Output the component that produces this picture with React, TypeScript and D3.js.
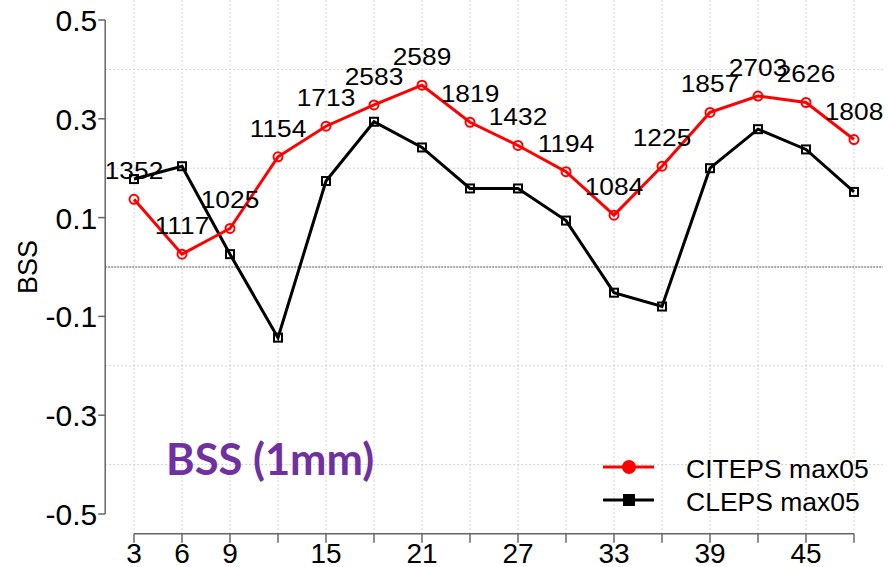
import * as d3 from 'd3'
import { type ReactElement } from 'react'

// lead times (h)
const leadTimes = [3, 6, 9, 12, 15, 18, 21, 24, 27, 30, 33, 36, 39, 42, 45, 48]
const citepsBss = [0.137, 0.026, 0.078, 0.223, 0.285, 0.328, 0.368, 0.293, 0.246, 0.193, 0.105, 0.204, 0.313, 0.346, 0.333, 0.258]
const clepsBss = [0.178, 0.204, 0.026, -0.143, 0.174, 0.294, 0.242, 0.159, 0.159, 0.094, -0.052, -0.08, 0.2, 0.279, 0.238, 0.152]
const sampleCounts = [1352, 1117, 1025, 1154, 1713, 2583, 2589, 1819, 1432, 1194, 1084, 1225, 1857, 2703, 2626, 1808]

const xTickValues = d3.range(3, 49, 3)
const xTickLabels = ['3', '6', '9', '', '15', '', '21', '', '27', '', '33', '', '39', '', '45', '']
const yTickValues = [-0.5, -0.3, -0.1, 0.1, 0.3, 0.5]
const yGridValues = [-0.4, -0.2, 0.2, 0.4]

const seriesNames = ['CITEPS max05', 'CLEPS max05']
const seriesColors = ['#ff0000', '#000000']

const width = 888
const height = 567
const font = '"Liberation Sans", Arial, sans-serif'

export default function App(): ReactElement {
  const x = d3.scaleLinear().domain([3, 48]).range([134, 854])
  const y = d3.scaleLinear().domain([-0.5, 0.5]).range([514, 20])

  // R-style plot region: 4% padding around the data range
  const left = x(1.2)
  const right = x(49.8)
  const top = y(0.54)
  const bottom = y(-0.54)

  const citeps = leadTimes.map((t, i) => ({ t, v: citepsBss[i] }))
  const cleps = leadTimes.map((t, i) => ({ t, v: clepsBss[i] }))

  const line = d3
    .line<{ t: number; v: number }>()
    .x((d) => x(d.t))
    .y((d) => y(d.v))

  return (
    <svg
      width={width}
      height={height}
      style={{ position: 'absolute', left: 0, top: 0, background: '#fff' }}
      fontFamily={font}
    >
      {/* grid */}
      {xTickValues.map((t) => (
        <line key={`vg${t}`} x1={x(t)} x2={x(t)} y1={top} y2={bottom} stroke="#d0d0d0" strokeWidth={1} strokeDasharray="2,2" />
      ))}
      {yGridValues.map((v) => (
        <line key={`hg${v}`} x1={left} x2={right} y1={y(v)} y2={y(v)} stroke="#d0d0d0" strokeWidth={1} strokeDasharray="2,2" />
      ))}
      <line x1={left} x2={right} y1={y(0)} y2={y(0)} stroke="#555" strokeWidth={1} strokeDasharray="2,1" />

      {/* axes */}
      <line x1={left} x2={left} y1={y(0.5)} y2={y(-0.5)} stroke="#666" strokeWidth={1.5} />
      {yTickValues.map((v) => (
        <g key={`yt${v}`}>
          <line x1={left - 7} x2={left} y1={y(v)} y2={y(v)} stroke="#666" strokeWidth={1.5} />
          <text x={left - 8} y={y(v) + 11} textAnchor="end" fontSize={30} fill="#000">
            {d3.format('.1f')(v).replace('−', '-')}
          </text>
        </g>
      ))}
      <line x1={x(3)} x2={x(48)} y1={bottom} y2={bottom} stroke="#666" strokeWidth={1.5} />
      {xTickValues.map((t, i) => (
        <g key={`xt${t}`}>
          <line x1={x(t)} x2={x(t)} y1={bottom} y2={bottom + 9} stroke="#666" strokeWidth={1.5} />
          <text x={x(t)} y={563} textAnchor="middle" fontSize={28} fill="#000">
            {xTickLabels[i]}
          </text>
        </g>
      ))}
      <text transform={`translate(37,${y(0)}) rotate(-90)`} textAnchor="middle" fontSize={27} fill="#000">
        BSS
      </text>

      {/* series */}
      <path d={line(cleps) ?? ''} fill="none" stroke={seriesColors[1]} strokeWidth={3} />
      <path d={line(citeps) ?? ''} fill="none" stroke={seriesColors[0]} strokeWidth={3} />
      {cleps.map((d) => (
        <rect key={`cs${d.t}`} x={x(d.t) - 4} y={y(d.v) - 4} width={8} height={8} fill="none" stroke="#000" strokeWidth={2} />
      ))}
      {citeps.map((d) => (
        <circle key={`cc${d.t}`} cx={x(d.t)} cy={y(d.v)} r={4.5} fill="none" stroke="#ff0000" strokeWidth={2} />
      ))}

      {/* sample counts */}
      {citeps.map((d, i) => (
        <text
          key={`n${d.t}`}
          transform={`translate(${x(d.t)},${y(d.v) - 20}) scale(1.12,1)`}
          textAnchor="middle"
          fontSize={23.5}
          fill="#000"
        >
          {sampleCounts[i]}
        </text>
      ))}

      {/* title */}
      <text x={166} y={475} fontFamily="Lato, sans-serif" fontWeight={700} fontSize={43.5} fill="#7030a0">
        BSS (1mm)
      </text>

      {/* legend */}
      <g>
        <line x1={603} x2={654} y1={467} y2={467} stroke={seriesColors[0]} strokeWidth={3} />
        <circle cx={629} cy={467} r={7} fill={seriesColors[0]} />
        <text x={686} y={478} fontSize={26.5} fill="#000">
          {seriesNames[0]}
        </text>
        <line x1={603} x2={654} y1={500} y2={500} stroke={seriesColors[1]} strokeWidth={3} />
        <rect x={623} y={494} width={12} height={12} fill={seriesColors[1]} />
        <text x={686} y={511} fontSize={26.5} fill="#000">
          {seriesNames[1]}
        </text>
      </g>
    </svg>
  )
}
